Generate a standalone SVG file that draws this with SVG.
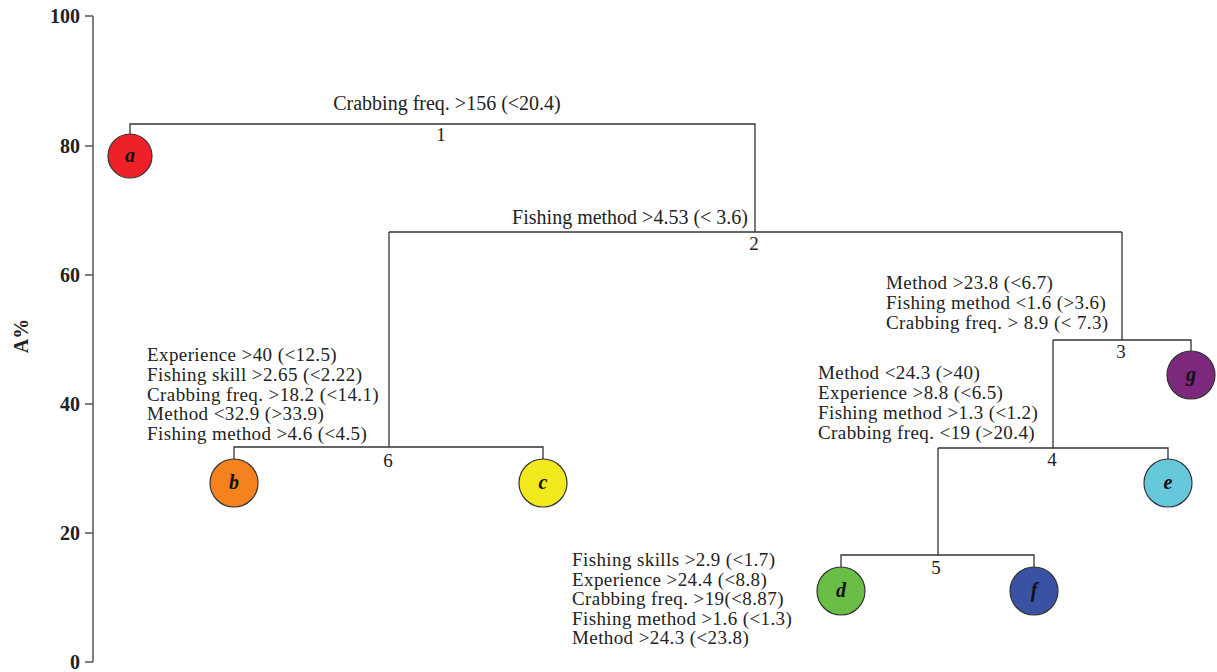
<svg xmlns="http://www.w3.org/2000/svg" width="1217" height="672" viewBox="0 0 1217 672">
<style>
.axis{stroke:#555;stroke-width:1.5;fill:none}
.tick{font-family:"Liberation Serif",serif;font-weight:bold;font-size:20px;fill:#222;text-anchor:end}
.lbl{font-family:"Liberation Serif",serif;font-size:20px;fill:#222}
.blk{font-family:"Liberation Serif",serif;font-size:19px;letter-spacing:0.4px;fill:#222}
.num{font-family:"Liberation Serif",serif;font-size:19px;fill:#222;text-anchor:middle}
.conn{stroke:#333;stroke-width:1.3;fill:none}
.node circle{stroke:#333;stroke-width:1.2}
.node text{font-family:"Liberation Serif",serif;font-style:italic;font-weight:bold;font-size:20px;fill:#111;text-anchor:middle}
</style>
<rect width="1217" height="672" fill="#fff"/>
<g id="axis">
<path class="axis" d="M93 16V662M85 16H93M85 146H93M85 275H93M85 404H93M85 533H93M85 662H93"/>
<text class="tick" x="80" y="23">100</text>
<text class="tick" x="80" y="153">80</text>
<text class="tick" x="80" y="282">60</text>
<text class="tick" x="80" y="411">40</text>
<text class="tick" x="80" y="540">20</text>
<text class="tick" x="80" y="669">0</text>
<text class="tick" transform="translate(28 336) rotate(-90)" style="text-anchor:middle">A%</text>
</g>
<g id="connectors">
<path class="conn" d="M130 134V124H755V232"/>
<path class="conn" d="M389 232H1122"/>
<path class="conn" d="M389 232V447M234 459V447H543V459"/>
<path class="conn" d="M1122 232V340M1053 340H1191V351"/>
<path class="conn" d="M1053 340V448M938 448H1168V459"/>
<path class="conn" d="M938 448V555M841 567V555H1034V567"/>
</g>
<g id="labels">
<text class="lbl" x="447" y="110" text-anchor="middle">Crabbing freq. &gt;156 (&lt;20.4)</text>
<text class="num" x="441" y="141">1</text>
<text class="lbl" x="748" y="224" text-anchor="end">Fishing method &gt;4.53 (&lt; 3.6)</text>
<text class="num" x="754" y="250">2</text>
<text class="blk" x="147" y="361">Experience &gt;40 (&lt;12.5)</text>
<text class="blk" x="147" y="381">Fishing skill &gt;2.65 (&lt;2.22)</text>
<text class="blk" x="147" y="401">Crabbing freq. &gt;18.2 (&lt;14.1)</text>
<text class="blk" x="147" y="420">Method &lt;32.9 (&gt;33.9)</text>
<text class="blk" x="147" y="440">Fishing method &gt;4.6 (&lt;4.5)</text>
<text class="num" x="388" y="467">6</text>
<text class="blk" x="886" y="289">Method &gt;23.8 (&lt;6.7)</text>
<text class="blk" x="886" y="309">Fishing method &lt;1.6 (&gt;3.6)</text>
<text class="blk" x="886" y="329">Crabbing freq. &gt; 8.9 (&lt; 7.3)</text>
<text class="num" x="1121" y="358">3</text>
<text class="blk" x="818" y="379">Method &lt;24.3 (&gt;40)</text>
<text class="blk" x="818" y="399">Experience &gt;8.8 (&lt;6.5)</text>
<text class="blk" x="818" y="419">Fishing method &gt;1.3 (&lt;1.2)</text>
<text class="blk" x="818" y="439">Crabbing freq. &lt;19 (&gt;20.4)</text>
<text class="num" x="1052" y="466">4</text>
<text class="blk" x="572" y="566">Fishing skills &gt;2.9 (&lt;1.7)</text>
<text class="blk" x="572" y="586">Experience &gt;24.4 (&lt;8.8)</text>
<text class="blk" x="572" y="605">Crabbing freq. &gt;19(&lt;8.87)</text>
<text class="blk" x="572" y="625">Fishing method &gt;1.6 (&lt;1.3)</text>
<text class="blk" x="572" y="644">Method &gt;24.3 (&lt;23.8)</text>
<text class="num" x="936" y="574">5</text>
</g>
<g id="node-a" class="node"><circle cx="130" cy="156" r="22" fill="#EE2128"/><text x="130" y="162">a</text></g>
<g id="node-b" class="node"><circle cx="234" cy="483" r="24" fill="#F5821F"/><text x="234" y="489">b</text></g>
<g id="node-c" class="node"><circle cx="543" cy="483" r="24" fill="#F1E81E"/><text x="543" y="489">c</text></g>
<g id="node-g" class="node"><circle cx="1191" cy="375" r="24" fill="#7B287D"/><text x="1191" y="381">g</text></g>
<g id="node-e" class="node"><circle cx="1168" cy="483" r="24" fill="#66C9DB"/><text x="1168" y="489">e</text></g>
<g id="node-d" class="node"><circle cx="841" cy="591" r="24" fill="#6BBE45"/><text x="841" y="597">d</text></g>
<g id="node-f" class="node"><circle cx="1034" cy="591" r="24" fill="#3952A4"/><text x="1034" y="597">f</text></g>
</svg>
